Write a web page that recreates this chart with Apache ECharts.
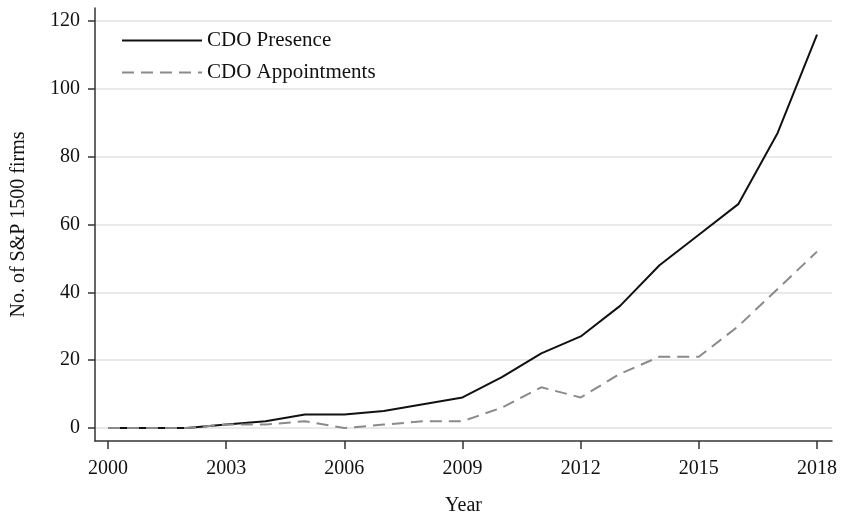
<!DOCTYPE html>
<html>
<head>
<meta charset="utf-8">
<script src="https://cdn.jsdelivr.net/npm/echarts@6/dist/echarts.min.js"></script>
<style>
  html, body { margin: 0; padding: 0; background: #fff; }
  #chart { width: 841px; height: 514px; }
</style>
</head>
<body>
<div id="chart"></div>
<script>
  // data
  const years = [2000, 2001, 2002, 2003, 2004, 2005, 2006, 2007, 2008, 2009,
                 2010, 2011, 2012, 2013, 2014, 2015, 2016, 2017, 2018]
  const cdoPresence = [0, 0, 0, 1, 2, 4, 4, 5, 7, 9, 15, 22, 27, 36, 48, 57, 66, 87, 116]
  const cdoAppointments = [0, 0, 0, 1, 1, 2, 0, 1, 2, 2, 6, 12, 9, 16, 21, 21, 30, 41, 52]
  const xTicks = [2000, 2003, 2006, 2009, 2012, 2015, 2018]
  const yTicks = [0, 20, 40, 60, 80, 100, 120]

  const font = 'Liberation Serif, Times New Roman, serif'
  const chart = echarts.init(document.getElementById('chart'))

  const option = {
    animation: false,
    textStyle: { fontFamily: font },
    grid: { left: 95, right: 9, top: 8, bottom: 73, outerBoundsMode: 'none', containLabel: false },
    legend: {
      orient: 'vertical',
      left: 116,
      top: 25,
      itemWidth: 80,
      itemHeight: 20,
      itemGap: 11,
      itemStyle: { opacity: 0 },
      textStyle: { fontFamily: font, fontSize: 21, color: '#111' },
      data: ['CDO Presence', 'CDO Appointments']
    },
    xAxis: {
      type: 'value',
      min: 1999.67,
      max: 2018.38,
      name: 'Year',
      nameLocation: 'middle',
      nameGap: 55,
      nameMoveOverlap: false,
      nameTextStyle: { fontFamily: font, fontSize: 20, color: '#111' },
      axisLine: { show: true, onZero: false, lineStyle: { color: '#333', width: 1.5 } },
      axisTick: { show: true, inside: false, length: 8, customValues: xTicks, lineStyle: { color: '#333', width: 1.5 } },
      axisLabel: {
        customValues: xTicks,
        formatter: v => String(v),
        fontSize: 20, color: '#111', margin: 18, fontFamily: font
      },
      splitLine: { show: false }
    },
    yAxis: {
      type: 'value',
      min: -3.83,
      max: 123.83,
      name: 'No. of S&P 1500 firms',
      nameLocation: 'middle',
      nameGap: 66,
      nameMoveOverlap: false,
      nameTextStyle: { fontFamily: font, fontSize: 20, color: '#111' },
      axisLine: { show: true, onZero: false, lineStyle: { color: '#333', width: 1.5 } },
      axisTick: { show: true, inside: false, length: 7, customValues: yTicks, lineStyle: { color: '#333', width: 1.5 } },
      axisLabel: {
        customValues: yTicks,
        formatter: v => String(v),
        fontSize: 20, color: '#111', margin: 15, fontFamily: font
      },
      splitLine: { show: true, lineStyle: { color: '#e2e2e2', width: 1.5 } }
    },
    series: [
      {
        name: 'CDO Presence',
        type: 'line',
        symbol: 'none',
        data: years.map((y, i) => [y, cdoPresence[i]]),
        lineStyle: { color: '#111', width: 2 },
        itemStyle: { color: '#111' }
      },
      {
        name: 'CDO Appointments',
        type: 'line',
        symbol: 'none',
        data: years.map((y, i) => [y, cdoAppointments[i]]),
        lineStyle: { color: '#8a8a8a', width: 2, type: [12, 7] },
        itemStyle: { color: '#8a8a8a' }
      }
    ]
  }
  chart.setOption(option)
</script>
</body>
</html>
